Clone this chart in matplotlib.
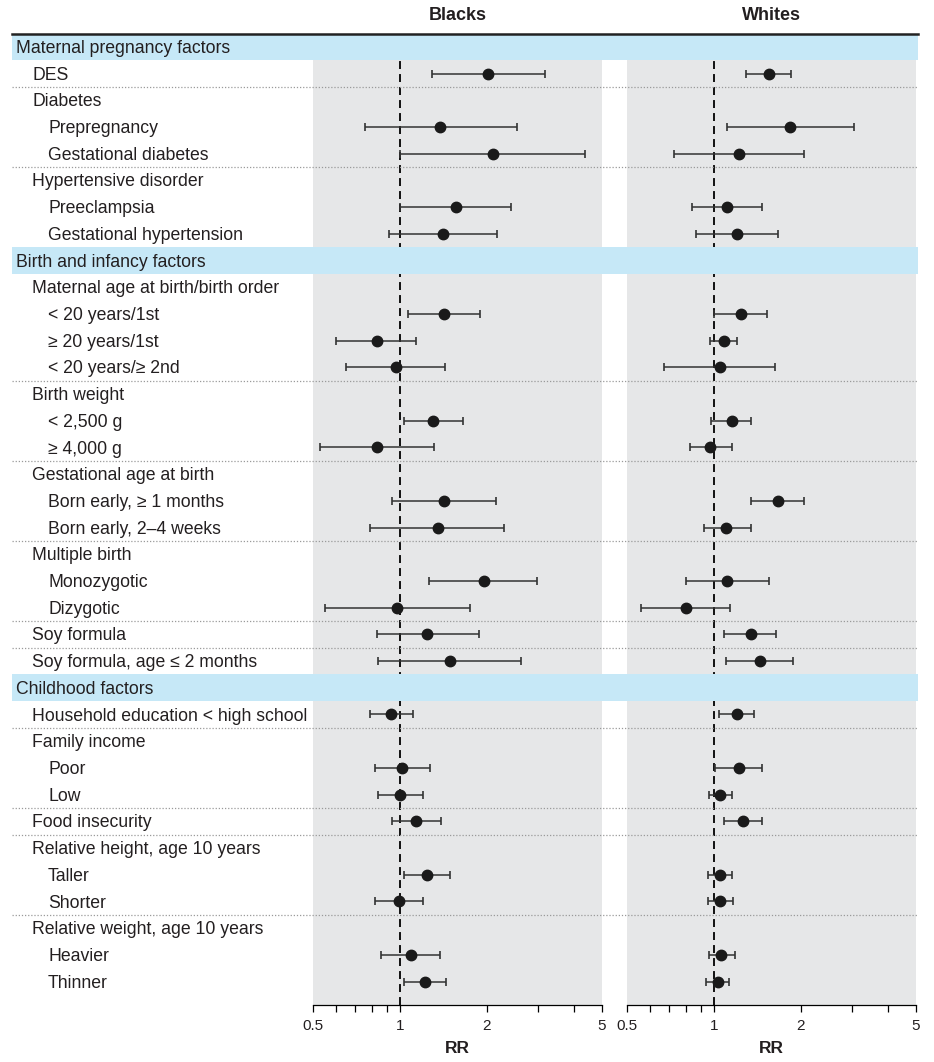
import numpy as np
import matplotlib
matplotlib.use("Agg")
import matplotlib.pyplot as plt
from matplotlib.patches import Rectangle
from matplotlib.ticker import FixedLocator, NullFormatter

plt.rcParams['font.family'] = ['Liberation Sans', 'DejaVu Sans']

# --- DATA ---
labels = [
    "Maternal pregnancy factors", "DES", "Diabetes", "Prepregnancy",
    "Gestational diabetes", "Hypertensive disorder", "Preeclampsia",
    "Gestational hypertension",
    "Birth and infancy factors", "Maternal age at birth/birth order",
    "< 20 years/1st", "\u2265 20 years/1st", "< 20 years/\u2265 2nd",
    "Birth weight", "< 2,500 g", "\u2265 4,000 g",
    "Gestational age at birth", "Born early, \u2265 1 months",
    "Born early, 2\u20134 weeks", "Multiple birth", "Monozygotic", "Dizygotic",
    "Soy formula", "Soy formula, age \u2264 2 months",
    "Childhood factors", "Household education < high school",
    "Family income", "Poor", "Low", "Food insecurity",
    "Relative height, age 10 years", "Taller", "Shorter",
    "Relative weight, age 10 years", "Heavier", "Thinner",
]
indent = [0, 1, 1, 2, 2, 1, 2, 2,
          0, 1, 2, 2, 2, 1, 2, 2, 1, 2, 2, 1, 2, 2, 1, 1,
          0, 1, 1, 2, 2, 1, 1, 2, 2, 1, 2, 2]
header_rows = [0, 8, 24]
separator_after = [1, 4, 12, 15, 18, 21, 22, 25, 28, 29, 32]

nan = np.nan
black_rr = [nan, 2.01, nan, 1.38, 2.09, nan, 1.56, 1.41,
            nan, nan, 1.42, 0.83, 0.97, nan, 1.30, 0.83, nan, 1.42, 1.35,
            nan, 1.95, 0.975, 1.24, 1.49,
            nan, 0.93, nan, 1.02, 1.00, 1.14, nan, 1.24, 0.99, nan, 1.09, 1.22]
black_lo = [nan, 1.29, nan, 0.755, 1.00, nan, 1.00, 0.917,
            nan, nan, 1.07, 0.60, 0.65, nan, 1.03, 0.53, nan, 0.94, 0.79,
            nan, 1.26, 0.55, 0.83, 0.84,
            nan, 0.79, nan, 0.82, 0.84, 0.94, nan, 1.03, 0.82, nan, 0.86, 1.03]
black_hi = [nan, 3.17, nan, 2.55, 4.35, nan, 2.43, 2.16,
            nan, nan, 1.89, 1.14, 1.43, nan, 1.65, 1.31, nan, 2.15, 2.29,
            nan, 2.98, 1.74, 1.88, 2.62,
            nan, 1.11, nan, 1.27, 1.20, 1.39, nan, 1.49, 1.20, nan, 1.37, 1.44]

white_rr = [nan, 1.55, nan, 1.83, 1.22, nan, 1.11, 1.20,
            nan, nan, 1.24, 1.08, 1.05, nan, 1.15, 0.97, nan, 1.66, 1.10,
            nan, 1.11, 0.80, 1.34, 1.44,
            nan, 1.20, nan, 1.22, 1.05, 1.26, nan, 1.05, 1.05, nan, 1.06, 1.03]
white_lo = [nan, 1.29, nan, 1.11, 0.726, nan, 0.837, 0.869,
            nan, nan, 1.00, 0.97, 0.67, nan, 0.98, 0.825, nan, 1.34, 0.92,
            nan, 0.80, 0.56, 1.08, 1.10,
            nan, 1.04, nan, 1.01, 0.96, 1.08, nan, 0.95, 0.95, nan, 0.96, 0.94]
white_hi = [nan, 1.85, nan, 3.04, 2.05, nan, 1.47, 1.67,
            nan, nan, 1.53, 1.20, 1.63, nan, 1.34, 1.15, nan, 2.05, 1.34,
            nan, 1.55, 1.14, 1.64, 1.87,
            nan, 1.38, nan, 1.47, 1.15, 1.47, nan, 1.15, 1.16, nan, 1.18, 1.13]

major_ticks = [0.5, 1, 2, 5]
minor_ticks = [0.6, 0.7, 0.8, 0.9, 3, 4]

# --- LAYOUT (pixels) ---
W, H = 934, 1062
top_px, bottom_px = 33.5, 1004.5
n_rows = len(labels)
ylim = (n_rows - 0.14, -0.5)
band_color = "#c6e8f7"
shade_color = "#e6e7e8"
text_color = "#231f20"

fig = plt.figure(figsize=(W / 100, H / 100), dpi=100)


def rect(x0, x1):
    return [x0 / W, 1 - bottom_px / H, (x1 - x0) / W, (bottom_px - top_px) / H]


panels = [
    ("Blacks", 313, 602, black_rr, black_lo, black_hi),
    ("Whites", 627, 916, white_rr, white_lo, white_hi),
]

rows = np.arange(n_rows)
for title, x0, x1, rr, lo, hi in panels:
    ax = fig.add_axes(rect(x0, x1), zorder=1)
    ax.set_facecolor(shade_color)
    ax.set_xscale("log")
    ax.set_xlim(0.5, 5)
    ax.set_ylim(*ylim)
    rr, lo, hi = np.array(rr), np.array(lo), np.array(hi)
    ok = ~np.isnan(rr)
    ax.axvline(1, color="black", lw=1.3, ls=(0, (4.4, 2.8)), zorder=1)
    ax.errorbar(rr[ok], rows[ok], xerr=[rr[ok] - lo[ok], hi[ok] - rr[ok]],
                fmt="o", color="#1a1a1a", ecolor="#333333", elinewidth=1.1,
                capsize=3, capthick=1.2, markersize=7.5, zorder=2)
    ax.xaxis.set_major_locator(FixedLocator(major_ticks))
    ax.xaxis.set_minor_locator(FixedLocator(minor_ticks))
    ax.set_xticklabels([f"{t:g}" for t in major_ticks])
    ax.xaxis.set_minor_formatter(NullFormatter())
    ax.tick_params(axis="x", which="both", direction="out", length=5,
                   width=0.9, labelsize=11, pad=5.5, labelcolor=text_color)
    ax.set_yticks([])
    for side in ["top", "left", "right"]:
        ax.spines[side].set_visible(False)
    ax.spines["bottom"].set_linewidth(0.9)
    ax.set_xlabel("RR", fontsize=12.5, fontweight="bold", labelpad=5.5,
                  color=text_color)
    ax.set_title(title, fontsize=13, fontweight="bold", pad=10, color=text_color)

# --- row labels, header bands and separators ---
ov = fig.add_axes(rect(0, W), zorder=3)
ov.patch.set_visible(False)
ov.set_xlim(0, W)
ov.set_ylim(*ylim)
ov.axis("off")

for r in header_rows:
    ov.add_patch(Rectangle((12, r - 0.5), 906, 1, color=band_color, lw=0, zorder=1))
for r in separator_after:
    ov.plot([12, 918], [r + 0.5, r + 0.5], color="#9a9a9a", lw=0.9,
            ls=(0, (1, 1.5)), zorder=2)
ov.plot([12, 918], [-0.5, -0.5], color="#222222", lw=1.8, zorder=3,
        clip_on=False)

for r, (txt, lev) in enumerate(zip(labels, indent)):
    ov.text(16 + 16 * lev, r + 0.06, txt, fontsize=12.7, va="center",
            ha="left", color=text_color, zorder=4)

fig.savefig("out.png", dpi=100)
